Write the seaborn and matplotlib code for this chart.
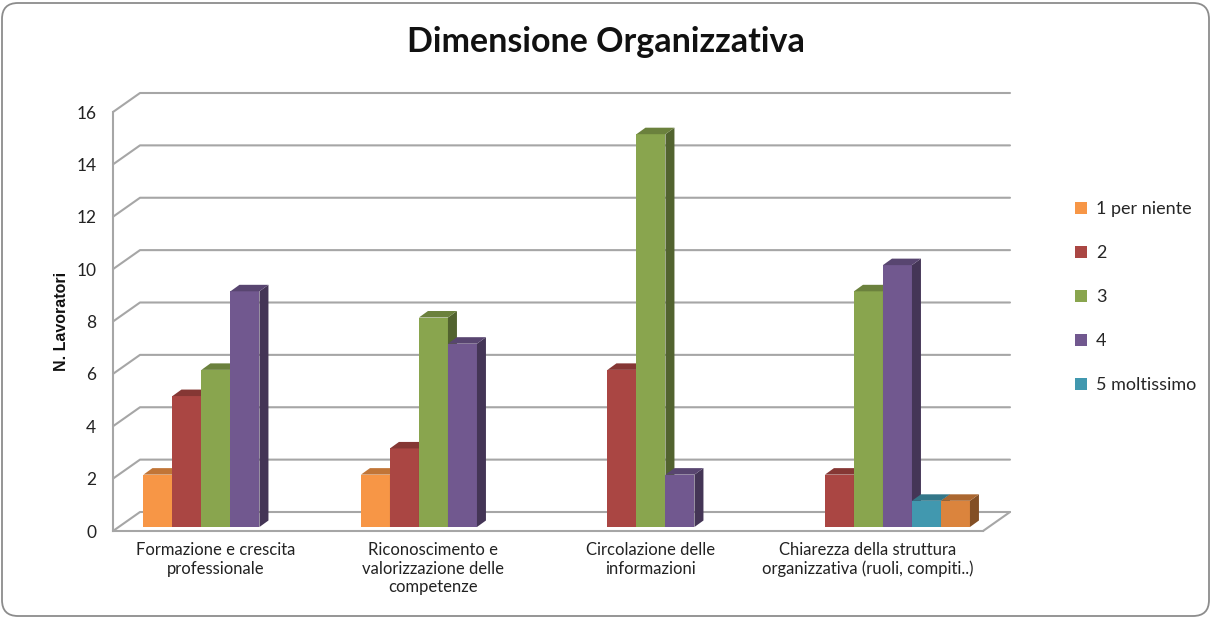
import numpy as np
import pandas as pd
import matplotlib
matplotlib.use("Agg")
import matplotlib.pyplot as plt
import matplotlib.colors as mcolors
import matplotlib.transforms as mtrans
from matplotlib.patches import Polygon, FancyBboxPatch, Patch
from matplotlib.lines import Line2D
import seaborn as sns

# ---------------- data ----------------
categories = [
    "Formazione e crescita\nprofessionale",
    "Riconoscimento e\nvalorizzazione delle\ncompetenze",
    "Circolazione delle\ninformazioni",
    "Chiarezza della struttura\norganizzativa (ruoli, compiti..)",
]
series = ["1 per niente", "2", "3", "4", "5 moltissimo", "6"]
legend_series = ["1 per niente", "2", "3", "4", "5 moltissimo"]
s1 = [2, 2, 0, 0]
s2 = [5, 3, 6, 2]
s3 = [6, 8, 15, 9]
s4 = [9, 7, 2, 10]
s5 = [0, 0, 0, 1]
s6 = [0, 0, 0, 1]
values = [s1, s2, s3, s4, s5, s6]
colors = ["#F79646", "#AA4643", "#89A54E", "#71588F", "#4198AF", "#DB843D"]
y_ticks = [0, 2, 4, 6, 8, 10, 12, 14, 16]
title = "Dimensione Organizzativa"
y_label = "N. Lavoratori"

rows = []
for s, vals in zip(series, values):
    for c, v in zip(categories, vals):
        rows.append({"cat": c, "serie": s, "val": v})
df = pd.DataFrame(rows)

# ---------------- figure ----------------
sns.set_theme(style="white")
plt.rcParams["font.family"] = ["Lato", "DejaVu Sans"]

W, H = 1212, 618
fig = plt.figure(figsize=(W / 100, H / 100), dpi=100)
fig.patch.set_facecolor("white")
ax = fig.add_axes([113 / W, 87 / H, 870 / W, 419 / H])
ax.set_facecolor("none")

palette = dict(zip(series, colors))
sns.barplot(data=df, x="cat", y="val", hue="serie", order=categories,
            hue_order=series, palette=palette, width=0.8, saturation=1,
            legend=False, ax=ax, edgecolor="none", linewidth=0)

ax.set_xlim(-0.54, 3.46)
ax.set_ylim(0, 16)
ax.set_yticks(y_ticks)
ax.set_xlabel("")
ax.set_ylabel(y_label, fontsize=11.5, fontweight="bold", labelpad=5,
              family=["Liberation Sans", "DejaVu Sans"], color="#111111")

grid_c = "#A6A6A6"
for sp in ["top", "right"]:
    ax.spines[sp].set_visible(False)
for sp in ["left", "bottom"]:
    ax.spines[sp].set_color(grid_c)
    ax.spines[sp].set_linewidth(1.5)
    ax.spines[sp].set_zorder(1)
ax.tick_params(axis="y", length=7, width=1.5, color=grid_c, labelsize=12.5,
               pad=5, labelcolor="#222222")
ax.tick_params(axis="x", length=0, labelsize=12, pad=8, labelcolor="#222222")
for lbl in ax.get_xticklabels():
    lbl.set_linespacing(1.2)
    lbl.set_transform(lbl.get_transform() +
                      mtrans.ScaledTranslation(-0.15, 0, fig.dpi_scale_trans))

ident = mtrans.IdentityTransform()

# back wall / floor (3D depth offset in pixels)
DX, DY = 27, 19
x0, x1 = ax.get_xlim()
for yv in y_ticks:
    fl = ax.transData.transform((x0, yv))
    fr = ax.transData.transform((x1, yv))
    xs = [fl[0], fl[0] + DX, fr[0] + DX]
    ys = [fl[1], fl[1] + DY, fr[1] + DY]
    ax.add_artist(Line2D(xs, ys, transform=ident, color=grid_c, lw=1.5,
                         zorder=1, clip_on=False))
fr0 = ax.transData.transform((x1, 0))
ax.add_artist(Line2D([fr0[0], fr0[0] + DX], [fr0[1], fr0[1] + DY],
                     transform=ident, color=grid_c, lw=1.5, zorder=1,
                     clip_on=False))


def shade(c, f):
    r, g, b = mcolors.to_rgb(c)
    return (r * f, g * f, b * f)


# 3D bars
bdx, bdy = 9, 6.5
lift = 4  # px, bars stand slightly behind the front edge
bars = [p for p in ax.patches if p.get_height() > 0]
bars.sort(key=lambda p: p.get_x())
for i, p in enumerate(bars):
    z = 3 + i * 0.01
    p.set_transform(ax.transData +
                    mtrans.ScaledTranslation(0, lift / 100, fig.dpi_scale_trans))
    p.set_zorder(z)
    p.set_clip_on(False)
    fc = p.get_facecolor()
    (xa, ya) = ax.transData.transform((p.get_x(), 0))
    (xb, yb) = ax.transData.transform((p.get_x() + p.get_width(), p.get_height()))
    ya += lift
    yb += lift
    top = Polygon([(xa, yb), (xb, yb), (xb + bdx, yb + bdy), (xa + bdx, yb + bdy)],
                  closed=True, transform=ident, facecolor=shade(fc, 0.78),
                  edgecolor="none", zorder=z + 0.002, clip_on=False)
    side = Polygon([(xb, ya), (xb + bdx, ya + bdy), (xb + bdx, yb + bdy), (xb, yb)],
                   closed=True, transform=ident, facecolor=shade(fc, 0.6),
                   edgecolor="none", zorder=z + 0.001, clip_on=False)
    ax.add_artist(side)
    ax.add_artist(top)

# legend (first five series)
handles = [Patch(facecolor=palette[s], edgecolor="none") for s in legend_series]
fig.legend(handles, legend_series, loc="upper left",
           bbox_to_anchor=(1068 / W, 1 - 194 / H), frameon=False,
           fontsize=13, handlelength=0.65, handleheight=0.65,
           handletextpad=0.5, labelspacing=1.55, borderaxespad=0)

fig.text(0.5, 1 - 42 / H, title, ha="center", va="center",
         fontsize=24.5, fontweight="bold", color="#111111")

border = FancyBboxPatch((2, 2), W - 5, H - 5,
                        boxstyle="round,pad=0,rounding_size=16",
                        transform=ident, fill=False, edgecolor="#8C8C8C",
                        linewidth=1.3)
fig.add_artist(border)

fig.savefig("out.png", dpi=100)
